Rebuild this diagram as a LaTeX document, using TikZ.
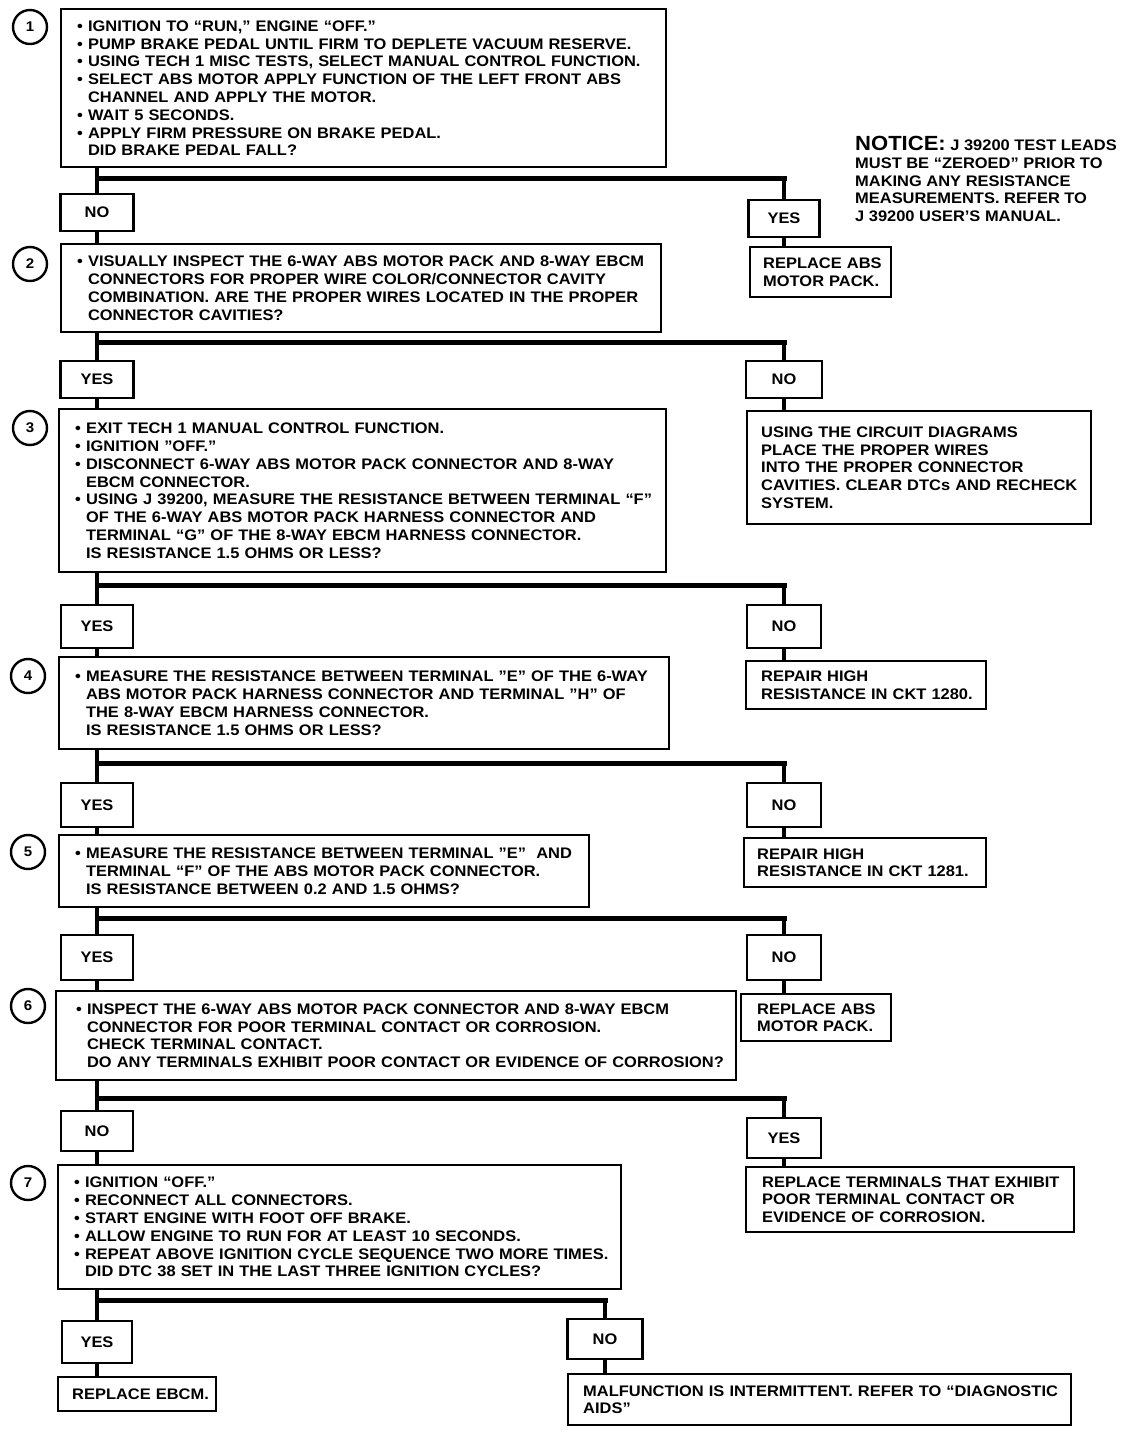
\documentclass[tikz,border=0pt]{standalone}
\usepackage{fontspec}
\setmainfont{Liberation Sans}[FakeStretch=1.075]
\usetikzlibrary{positioning}
\newcommand{\indt}{\phantom{• }}
\newcommand{\boxfont}{\fontsize{15.3}{17.8}\selectfont\bfseries}
\tikzset{
    %Define style for step boxes
    stepbox/.style={
           rectangle,
           draw=black, line width=2.4pt,
           anchor=north west,
           align=left,
           inner xsep=16pt, inner ysep=0pt,
           execute at begin node={\rightskip=0pt plus 1fil minus 30pt},
           font=\boxfont},
    %Define style for yes/no boxes
    ansbox/.style={
           rectangle,
           draw=black, line width=2.4pt,
           anchor=north,
           inner sep=0pt,
           font=\boxfont},
    %Define style for step numbers
    numcirc/.style={
           circle,
           draw=black, line width=2.4pt,
           minimum size=34pt,
           inner sep=0pt,
           font=\fontsize{14}{14}\selectfont\bfseries},
    % Define connector styles
    vline/.style={line width=4pt},
    hbar/.style={line width=5pt, line cap=rect}
}
\begin{document}
\begin{tikzpicture}[x=1pt,y=-1pt]
\useasboundingbox (0,0) rectangle (1136,1432);
% step numbers
\node[numcirc] (c1) at (30,27) {1};
\node[numcirc] (c2) at (30,264) {2};
\node[numcirc] (c3) at (30,428) {3};
\node[numcirc] (c4) at (28,676) {4};
\node[numcirc] (c5) at (28,852) {5};
\node[numcirc] (c6) at (28,1006) {6};
\node[numcirc] (c7) at (28,1183) {7};
% step boxes
\node[stepbox, minimum width=605pt, minimum height=158pt, text width=573pt] (s1) at (60,8) {%
• IGNITION TO “RUN,” ENGINE “OFF.”\\
• PUMP BRAKE PEDAL UNTIL FIRM TO DEPLETE VACUUM RESERVE.\\
• USING TECH 1 MISC TESTS, SELECT MANUAL CONTROL FUNCTION.\\
• SELECT ABS MOTOR APPLY FUNCTION OF THE LEFT FRONT ABS\\
\indt CHANNEL AND APPLY THE MOTOR.\\
• WAIT 5 SECONDS.\\
• APPLY FIRM PRESSURE ON BRAKE PEDAL.\\
\indt DID BRAKE PEDAL FALL?};
\node[stepbox, minimum width=600pt, minimum height=88pt, text width=568pt] (s2) at (60,243) {%
• VISUALLY INSPECT THE 6-WAY ABS MOTOR PACK AND 8-WAY EBCM\\
\indt CONNECTORS FOR PROPER WIRE COLOR/CONNECTOR CAVITY\\
\indt COMBINATION. ARE THE PROPER WIRES LOCATED IN THE PROPER\\
\indt CONNECTOR CAVITIES?};
\node[stepbox, minimum width=607pt, minimum height=163pt, text width=575pt] (s3) at (58,408) {%
• EXIT TECH 1 MANUAL CONTROL FUNCTION.\\
• IGNITION "OFF."\\
• DISCONNECT 6-WAY ABS MOTOR PACK CONNECTOR AND 8-WAY\\
\indt EBCM CONNECTOR.\\
• USING J 39200, MEASURE THE RESISTANCE BETWEEN TERMINAL “F”\\
\indt OF THE 6-WAY ABS MOTOR PACK HARNESS CONNECTOR AND\\
\indt TERMINAL “G” OF THE 8-WAY EBCM HARNESS CONNECTOR.\\
\indt IS RESISTANCE 1.5 OHMS OR LESS?};
\node[stepbox, minimum width=610pt, minimum height=92pt, text width=578pt] (s4) at (58,656) {%
• MEASURE THE RESISTANCE BETWEEN TERMINAL "E" OF THE 6-WAY\\
\indt ABS MOTOR PACK HARNESS CONNECTOR AND TERMINAL "H" OF\\
\indt THE 8-WAY EBCM HARNESS CONNECTOR.\\
\indt IS RESISTANCE 1.5 OHMS OR LESS?};
\node[stepbox, minimum width=530pt, minimum height=72pt, text width=498pt] (s5) at (58,834) {%
• MEASURE THE RESISTANCE BETWEEN TERMINAL "E"\ \ AND\\
\indt TERMINAL “F” OF THE ABS MOTOR PACK CONNECTOR.\\
\indt IS RESISTANCE BETWEEN 0.2 AND 1.5 OHMS?};
\node[stepbox, inner xsep=20pt, minimum width=680pt, minimum height=89pt, text width=640pt] (s6) at (55,990) {%
• INSPECT THE 6-WAY ABS MOTOR PACK CONNECTOR AND 8-WAY EBCM\\
\indt CONNECTOR FOR POOR TERMINAL CONTACT OR CORROSION.\\
\indt CHECK TERMINAL CONTACT.\\
\indt DO ANY TERMINALS EXHIBIT POOR CONTACT OR EVIDENCE OF CORROSION?};
\node[stepbox, minimum width=563pt, minimum height=124pt, text width=531pt] (s7) at (57,1164) {%
• IGNITION “OFF.”\\
• RECONNECT ALL CONNECTORS.\\
• START ENGINE WITH FOOT OFF BRAKE.\\
• ALLOW ENGINE TO RUN FOR AT LEAST 10 SECONDS.\\
• REPEAT ABOVE IGNITION CYCLE SEQUENCE TWO MORE TIMES.\\
\indt DID DTC 38 SET IN THE LAST THREE IGNITION CYCLES?};
% yes/no boxes
\node[ansbox, minimum width=73pt, minimum height=37pt] (n1) at (97,193) {NO};
\node[ansbox, minimum width=71pt, minimum height=37pt] (y1) at (784,199) {YES};
\node[ansbox, minimum width=73pt, minimum height=37pt] (y2) at (97,360) {YES};
\node[ansbox, minimum width=76pt, minimum height=37pt] (n2) at (784,360) {NO};
\node[ansbox, minimum width=72pt, minimum height=43pt] (y3) at (97,604) {YES};
\node[ansbox, minimum width=74pt, minimum height=43pt] (n3) at (784,604) {NO};
\node[ansbox, minimum width=72pt, minimum height=44pt] (y4) at (97,782) {YES};
\node[ansbox, minimum width=74pt, minimum height=44pt] (n4) at (784,782) {NO};
\node[ansbox, minimum width=72pt, minimum height=45pt] (y5) at (97,934) {YES};
\node[ansbox, minimum width=74pt, minimum height=45pt] (n5) at (784,934) {NO};
\node[ansbox, minimum width=72pt, minimum height=40pt] (n6) at (97,1110) {NO};
\node[ansbox, minimum width=74pt, minimum height=40pt] (y6) at (784,1117) {YES};
\node[ansbox, minimum width=70pt, minimum height=42pt] (y7) at (97,1320) {YES};
\node[ansbox, minimum width=75pt, minimum height=40pt] (n7) at (605,1318) {NO};
% result boxes
\node[stepbox, inner xsep=13pt, minimum width=141pt, minimum height=50pt, text width=115pt] (r1) at (749,246) {%
REPLACE ABS\\MOTOR PACK.};
\node[stepbox, inner xsep=14pt, minimum width=344pt, minimum height=113pt, text width=316pt] (r2) at (746,410) {%
USING THE CIRCUIT DIAGRAMS\\
PLACE THE PROPER WIRES\\
INTO THE PROPER CONNECTOR\\
CAVITIES. CLEAR DTCs AND RECHECK\\
SYSTEM.};
\node[stepbox, inner xsep=15pt, minimum width=240pt, minimum height=48pt, text width=210pt] (r3) at (745,660) {%
REPAIR HIGH\\RESISTANCE IN CKT 1280.};
\node[stepbox, inner xsep=13pt, minimum width=242pt, minimum height=49pt, text width=216pt] (r4) at (743,837) {%
REPAIR HIGH\\RESISTANCE IN CKT 1281.};
\node[stepbox, inner xsep=16pt, minimum width=150pt, minimum height=47pt, text width=118pt] (r5) at (740,993) {%
REPLACE ABS\\MOTOR PACK.};
\node[stepbox, inner xsep=16pt, minimum width=328pt, minimum height=65pt, text width=296pt] (r6) at (745,1166) {%
REPLACE TERMINALS THAT EXHIBIT\\
POOR TERMINAL CONTACT OR\\
EVIDENCE OF CORROSION.};
\node[stepbox, inner xsep=14pt, minimum width=158pt, minimum height=34pt, text width=130pt] (r7) at (57,1376) {%
REPLACE EBCM.};
\node[stepbox, inner xsep=15pt, minimum width=503pt, minimum height=51pt, text width=473pt] (r8) at (567,1373) {%
MALFUNCTION IS INTERMITTENT. REFER TO “DIAGNOSTIC\\
AIDS"};
% notice
\node[anchor=north west, align=left, inner sep=0pt, font=\boxfont] (note) at (855,136) {%
{\fontsize{20.5}{20.5}\selectfont NOTICE:} J 39200 TEST LEADS\\
MUST BE “ZEROED” PRIOR TO\\
MAKING ANY RESISTANCE\\
MEASUREMENTS. REFER TO\\
J 39200 USER'S MANUAL.};
% branch points
\coordinate (b1) at (97,178);
\coordinate (b2) at (97,342);
\coordinate (b3) at (97,585);
\coordinate (b4) at (97,763);
\coordinate (b5) at (97,918);
\coordinate (b6) at (97,1098);
\coordinate (b7) at (97,1300);
% main line
\draw[vline] (s1.south -| n1.north) -- (n1.north) (n1.south) -- (s2.north -| n1.south);
\draw[vline] (s2.south -| y2.north) -- (y2.north) (y2.south) -- (s3.north -| y2.south);
\draw[vline] (s3.south -| y3.north) -- (y3.north) (y3.south) -- (s4.north -| y3.south);
\draw[vline] (s4.south -| y4.north) -- (y4.north) (y4.south) -- (s5.north -| y4.south);
\draw[vline] (s5.south -| y5.north) -- (y5.north) (y5.south) -- (s6.north -| y5.south);
\draw[vline] (s6.south -| n6.north) -- (n6.north) (n6.south) -- (s7.north -| n6.south);
\draw[vline] (s7.south -| y7.north) -- (y7.north) (y7.south) -- (r7.north -| y7.south);
% side branches
\draw[hbar] (b1) -- (b1 -| y1.north);
\draw[vline] (b1 -| y1.north) -- (y1.north) (y1.south) -- (r1.north -| y1.south);
\draw[hbar] (b2) -- (b2 -| n2.north);
\draw[vline] (b2 -| n2.north) -- (n2.north) (n2.south) -- (r2.north -| n2.south);
\draw[hbar] (b3) -- (b3 -| n3.north);
\draw[vline] (b3 -| n3.north) -- (n3.north) (n3.south) -- (r3.north -| n3.south);
\draw[hbar] (b4) -- (b4 -| n4.north);
\draw[vline] (b4 -| n4.north) -- (n4.north) (n4.south) -- (r4.north -| n4.south);
\draw[hbar] (b5) -- (b5 -| n5.north);
\draw[vline] (b5 -| n5.north) -- (n5.north) (n5.south) -- (r5.north -| n5.south);
\draw[hbar] (b6) -- (b6 -| y6.north);
\draw[vline] (b6 -| y6.north) -- (y6.north) (y6.south) -- (r6.north -| y6.south);
\draw[hbar] (b7) -- (b7 -| n7.north);
\draw[vline] (b7 -| n7.north) -- (n7.north) (n7.south) -- (r8.north -| n7.south);
\end{tikzpicture}
\end{document}
